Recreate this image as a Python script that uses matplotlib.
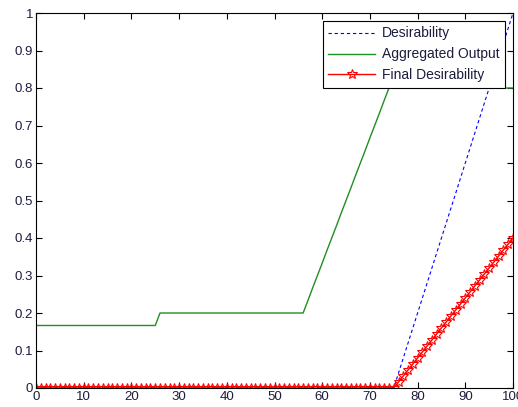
import numpy as np
import matplotlib
matplotlib.use("Agg")
import matplotlib.pyplot as plt

plt.rcParams['font.family'] = ['Liberation Sans', 'DejaVu Sans']

# input axis, 0..100 in unit steps
x = list(range(101))

desirability = [0.0] * 76 + [0.04, 0.08, 0.12, 0.16, 0.20, 0.24, 0.28, 0.32, 0.36,
                             0.40, 0.44, 0.48, 0.52, 0.56, 0.60, 0.64, 0.68, 0.72,
                             0.76, 0.80, 0.84, 0.88, 0.92, 0.96, 1.00]

aggregated = ([0.1667] * 26 + [0.2] * 31 +
              [0.233, 0.267, 0.300, 0.333, 0.367, 0.400, 0.433, 0.467, 0.500,
               0.533, 0.567, 0.600, 0.633, 0.667, 0.700, 0.733, 0.767, 0.800] +
              [0.8] * 26)

final_des = [0.0] * 76 + [0.016, 0.032, 0.048, 0.064, 0.080, 0.096, 0.112, 0.128,
                          0.144, 0.160, 0.176, 0.192, 0.208, 0.224, 0.240, 0.256,
                          0.272, 0.288, 0.304, 0.320, 0.336, 0.352, 0.368, 0.384, 0.400]

xticks = [0, 10, 20, 30, 40, 50, 60, 70, 80, 90, 100]
yticks = [0, 0.1, 0.2, 0.3, 0.4, 0.5, 0.6, 0.7, 0.8, 0.9, 1]
ylabels = ['0', '0.1', '0.2', '0.3', '0.4', '0.5', '0.6', '0.7', '0.8', '0.9', '1']

fig = plt.figure(figsize=(5.18, 4.07), dpi=100)
ax = fig.add_axes([36 / 518, 19 / 407, 477 / 518, 375 / 407])

ax.plot(x, desirability, color='#0000ff', linestyle=(0, (3, 2.5)), linewidth=0.8,
        label='Desirability')
ax.plot(x, aggregated, color='#1f8f1f', linewidth=1.0, label='Aggregated Output')
ax.plot(x, final_des, color='#ff0000', linewidth=1.0, marker='*', markersize=7,
        markerfacecolor='none', markeredgecolor='#ff0000', markeredgewidth=0.8,
        label='Final Desirability')

ax.set_xlim(0, 100)
ax.set_ylim(0, 1)
ax.set_xticks(xticks)
ax.set_xticklabels([str(t) for t in xticks])
ax.set_yticks(yticks)
ax.set_yticklabels(ylabels)
ax.tick_params(direction='in', top=True, right=True, length=4, width=0.8,
               labelsize=9.5, labelcolor='#1c1c3c', pad=2)
for s in ax.spines.values():
    s.set_linewidth(0.8)

leg = ax.legend(loc='upper right', bbox_to_anchor=(0.983, 0.979), fontsize=10,
                fancybox=False, framealpha=1, edgecolor='black', borderpad=0.4,
                handlelength=3.4, handletextpad=0.45, labelspacing=0.5,
                borderaxespad=0)
leg.get_frame().set_linewidth(0.8)
for t in leg.get_texts():
    t.set_color('#1c1c3c')

fig.savefig('out.png', dpi=100, facecolor='white')
